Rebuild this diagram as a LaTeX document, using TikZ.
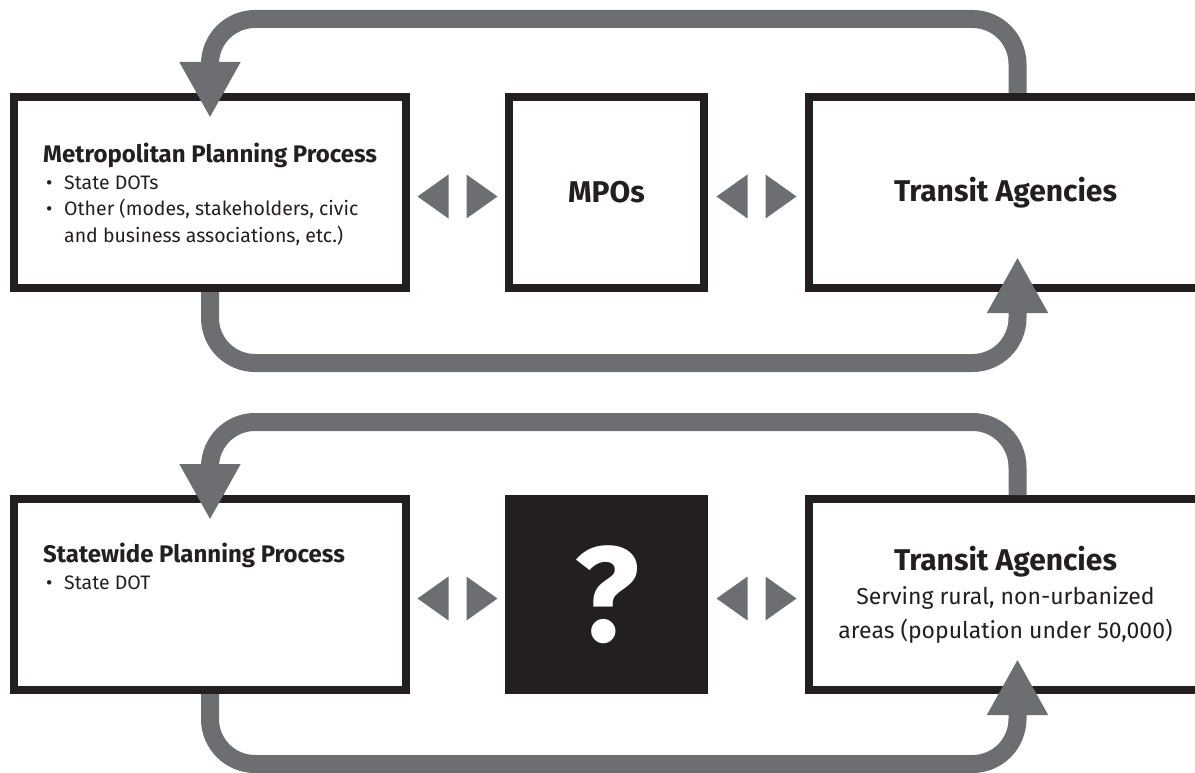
\documentclass[tikz,border=0pt]{standalone}
\usepackage{fontspec}
\setmainfont{Fira Sans}
\usetikzlibrary{positioning,arrows.meta}

\definecolor{loopgray}{HTML}{6D6E71}
\definecolor{boxblack}{HTML}{231F20}

\newcommand\itembul{\hspace*{3pt}\makebox[18pt][l]{\textbullet}}
\newcommand\subfont{\mdseries\fontsize{23}{32}\selectfont}

\tikzset{
	box/.style={draw=boxblack, line width=8pt, outer sep=4pt, rectangle,
		minimum width=392pt, minimum height=191pt, inner sep=0pt,
		text=boxblack, align=center, font=\bfseries\fontsize{30}{34}\selectfont},
	loopline/.style={draw=loopgray, line width=18pt, rounded corners=45pt,
		-{Triangle[width=57pt,length=56pt]}},
	bodytext/.style={inner sep=0pt, align=left, text=boxblack,
		font=\fontsize{19.5}{26.5}\selectfont},
}

\begin{document}
\begin{tikzpicture}[x=1pt,y=1pt]
	\clip (0,0) rectangle (1195,-773);

	% metropolitan row
	\node[box] (mpp) at (210,-192.5) {};
	\node[box, minimum width=195pt] (mpo) at (mpp.east) [right=95pt] {MPOs};
	\node[box, minimum width=393pt] (ta1) at (mpo.east) [right=97pt] {Transit Agencies};
	\node[bodytext] (mpptext) at (mpp.north west) [below right=50pt and 33pt]
		{{\bfseries\fontsize{24}{26.5}\selectfont Metropolitan Planning Process}\\
		\itembul State DOTs\\
		\itembul Other (modes, stakeholders, civic\\
		\hspace*{21pt}and business associations, etc.)};

	% statewide row
	\node[box] (spp) at (mpp.south) [below=203pt] {};
	\node[box, minimum width=195pt, fill=boxblack, text=white,
		font=\bfseries\fontsize{135}{135}\selectfont] (q) at (spp.east) [right=95pt] {?};
	\node[box, minimum width=393pt] (ta2) at (q.east) [right=97pt]
		{Transit Agencies\\
		\subfont Serving rural, non-urbanized\\
		\subfont areas (population under 50,000)};
	\node[bodytext] (spptext) at (spp.north west) [below right=48pt and 33pt]
		{{\bfseries\fontsize{24}{26.5}\selectfont Statewide Planning Process}\\
		\itembul State DOT};

	% two-way marks between boxes
	\foreach \a/\b in {mpp/mpo, mpo/ta1, spp/q, q/ta2}{
		\path (\a.east) -- (\b.west) coordinate[pos=.5] (mid);
		\fill[loopgray] ([shift={(-9pt,-4pt)}]mid) ++(0,22pt) -- ++(-31pt,-22pt) -- ++(31pt,-22pt) -- cycle;
		\fill[loopgray] ([shift={(9pt,-4pt)}]mid) ++(0,22pt) -- ++(31pt,-22pt) -- ++(-31pt,-22pt) -- cycle;
	}

	% feedback loops
	\draw[loopline] ([xshift=12pt]ta1.north) -- ++(0,74pt) -| ([yshift=-25pt]mpp.north);
	\draw[loopline] (mpp.south) -- ++(0,-71pt) -| ([shift={(12pt,35pt)}]ta1.south);
	\draw[loopline] ([xshift=12pt]ta2.north) -- ++(0,73pt) -| ([yshift=-25pt]spp.north);
	\draw[loopline] (spp.south) -- ++(0,-70pt) -| ([shift={(12pt,35pt)}]ta2.south);

\end{tikzpicture}
\end{document}
